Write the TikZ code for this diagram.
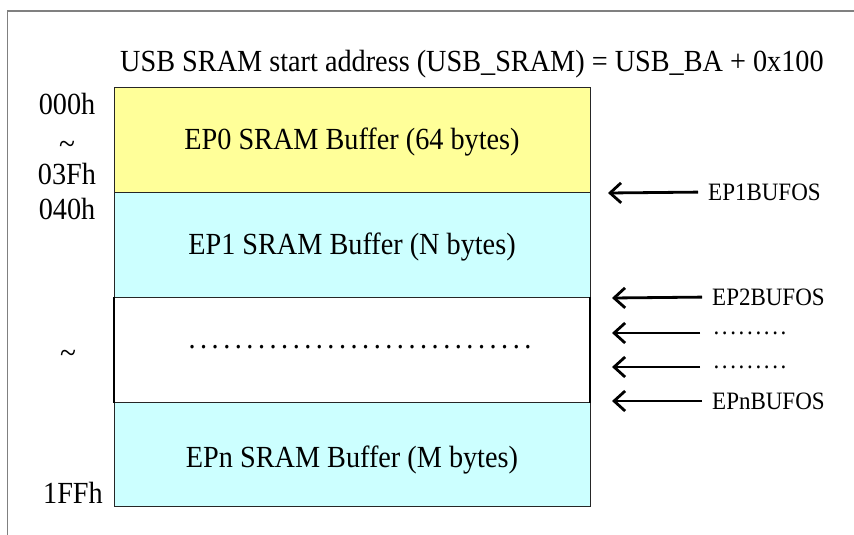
\documentclass[tikz,border=0pt]{standalone}
\usepackage{fontspec}
\setmainfont{Liberation Serif}[FakeStretch=0.92]
\usetikzlibrary{arrows.meta}
\definecolor{bufyellow}{HTML}{FFFF99}
\definecolor{bufcyan}{HTML}{CCFFFF}
\definecolor{framegray}{HTML}{808080}
\newcommand\bigtxt{\fontsize{30.7}{36}\selectfont}
\newcommand\smalltxt{\fontsize{25}{30}\selectfont}
\newcommand\bdot{\makebox[11.58pt]{.}}
\newcommand\sdot{\makebox[8.4pt]{.}}
\tikzset{
  buf/.style={draw=black!85, line width=1pt, minimum width=476pt, minimum height=105pt,
              anchor=north west, inner sep=0pt, outer sep=0pt},
  big/.style={font=\bigtxt, inner sep=0pt, anchor=base},
  addr/.style={font=\bigtxt, inner sep=0pt, anchor=base},
  tld/.style={font=\fontsize{32}{36}\selectfont, inner sep=0pt, text height=4pt, text depth=0pt, anchor=center},
  reg/.style={font=\smalltxt, inner sep=0pt, anchor=west},
  ptr/.style={line width=2.8pt, -{Straight Barb[length=11pt,width=20pt,line width=2.8pt]}, shorten <=10pt},
  frame/.style={draw=framegray, line width=1.5pt}
}
\begin{document}
\begin{tikzpicture}[x=1pt,y=-1pt]
\useasboundingbox (0,0) rectangle (854,535);
% outer frame
\draw[frame] (854,11) -- (7.5,11) -- (7.5,535);
% title
\node[big] (title) at (472,71) {USB SRAM start address (USB\_SRAM) = USB\_BA + 0x100};
% buffers
\node[buf, fill=bufyellow] (ep0) at (114,87.5) {};
\node[buf, fill=bufcyan] (ep1) at (114,192.5) {};
\node[buf, fill=bufcyan, minimum height=104pt] (epn) at (114,402.5) {};
\node[buf, fill=white, minimum height=105.5pt] (mid) at (114,297) {};
\draw[line width=2.8pt] (mid.north west) -- (mid.south west);
\draw[line width=2.8pt] (mid.north east) -- (mid.south east);
% buffer texts
\node[big] (t0) at (352,149) {EP0 SRAM Buffer (64 bytes)};
\node[big] (t1) at (352,254) {EP1 SRAM Buffer (N bytes)};
\node[big] (tn) at (352,467) {EPn SRAM Buffer (M bytes)};
\node[font=\bigtxt, inner sep=0pt] (tdots) at (360,347) {\bdot\bdot\bdot\bdot\bdot\bdot\bdot\bdot\bdot\bdot\bdot\bdot\bdot\bdot\bdot\bdot\bdot\bdot\bdot\bdot\bdot\bdot\bdot\bdot\bdot\bdot\bdot\bdot\bdot\bdot};
% addresses
\node[addr] (a000) at (67,114) {000h};
\node[tld] (tl1) at (67,152) {\textasciitilde};
\node[addr] (a03f) at (67,184) {03Fh};
\node[addr] (a040) at (67,219) {040h};
\node[tld] (tl2) at (68,361) {\textasciitilde};
\node[addr, anchor=base east] (a1ff) at (103,503) {1FFh};
% pointers
\coordinate (p1) at (608,193);
\coordinate (p2) at (612,298);
\coordinate (p3) at (612,333);
\coordinate (p4) at (612,367);
\coordinate (p5) at (612,401);
\node[reg] (r1) at (708,192) {EP1BUFOS};
\node[reg] (r2) at (712,297) {EP2BUFOS};
\node[reg] (r3) at (712,333) {\sdot\sdot\sdot\sdot\sdot\sdot\sdot\sdot\sdot};
\node[reg] (r4) at (712,367) {\sdot\sdot\sdot\sdot\sdot\sdot\sdot\sdot\sdot};
\node[reg] (r5) at (712,401) {EPnBUFOS};
\draw[ptr] (r1.west) -- (p1);
\draw[ptr] (r2.west) -- (p2);
\draw[ptr, shorten <=12pt] (r3.west) -- (p3);
\draw[ptr, shorten <=12pt] (r4.west) -- (p4);
\draw[ptr] (r5.west) -- (p5);
\end{tikzpicture}
\end{document}
